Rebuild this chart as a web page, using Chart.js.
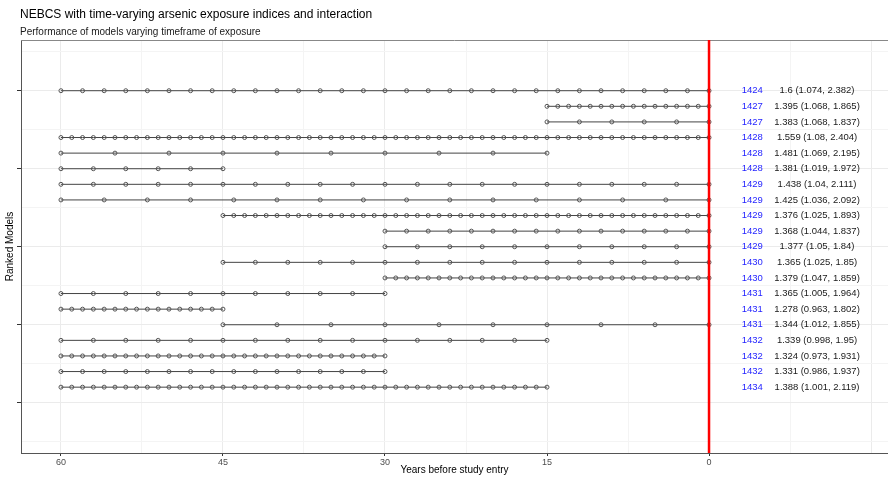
<!DOCTYPE html>
<html>
<head>
<meta charset="utf-8">
<script src="https://cdn.jsdelivr.net/npm/chart.js@4.4.1/dist/chart.umd.min.js"></script>
<style>
  html, body { margin: 0; padding: 0; background: #fff; }
</style>
</head>
<body>
<canvas id="chart" width="888" height="481"></canvas>
<script>
// Model ids, estimates (HR with 95% CI) and rank position, top to bottom
const models = ['1424', '1427', '1427', '1428', '1428', '1428', '1429', '1429', '1429', '1429',
                '1429', '1430', '1430', '1431', '1431', '1431', '1432', '1432', '1432', '1434'];
const estimates = [
  '1.6 (1.074, 2.382)', '1.395 (1.068, 1.865)', '1.383 (1.068, 1.837)', '1.559 (1.08, 2.404)',
  '1.481 (1.069, 2.195)', '1.381 (1.019, 1.972)', '1.438 (1.04, 2.111)', '1.425 (1.036, 2.092)',
  '1.376 (1.025, 1.893)', '1.368 (1.044, 1.837)', '1.377 (1.05, 1.84)', '1.365 (1.025, 1.85)',
  '1.379 (1.047, 1.859)', '1.365 (1.005, 1.964)', '1.278 (0.963, 1.802)', '1.344 (1.012, 1.855)',
  '1.339 (0.998, 1.95)', '1.324 (0.973, 1.931)', '1.331 (0.986, 1.937)', '1.388 (1.001, 2.119)'
];
const rankY = [20, 19, 18, 17, 16, 15, 14, 13, 12, 11, 10, 9, 8, 7, 6, 5, 4, 3, 2, 1];

// Exposure years (before study entry) included in each model
const years = [
  [60, 58, 56, 54, 52, 50, 48, 46, 44, 42, 40, 38, 36, 34, 32, 30, 28, 26, 24, 22, 20, 18, 16, 14, 12, 10, 8, 6, 4, 2, 0],
  [15, 14, 13, 12, 11, 10, 9, 8, 7, 6, 5, 4, 3, 2, 1, 0],
  [15, 12, 9, 6, 3, 0],
  [60, 59, 58, 57, 56, 55, 54, 53, 52, 51, 50, 49, 48, 47, 46, 45, 44, 43, 42, 41, 40, 39, 38, 37, 36, 35, 34, 33, 32, 31,
   30, 29, 28, 27, 26, 25, 24, 23, 22, 21, 20, 19, 18, 17, 16, 15, 14, 13, 12, 11, 10, 9, 8, 7, 6, 5, 4, 3, 2, 1, 0],
  [60, 55, 50, 45, 40, 35, 30, 25, 20, 15],
  [60, 57, 54, 51, 48, 45],
  [60, 57, 54, 51, 48, 45, 42, 39, 36, 33, 30, 27, 24, 21, 18, 15, 12, 9, 6, 3, 0],
  [60, 56, 52, 48, 44, 40, 36, 32, 28, 24, 20, 16, 12, 8, 4, 0],
  [45, 44, 43, 42, 41, 40, 39, 38, 37, 36, 35, 34, 33, 32, 31, 30, 29, 28, 27, 26, 25, 24, 23,
   22, 21, 20, 19, 18, 17, 16, 15, 14, 13, 12, 11, 10, 9, 8, 7, 6, 5, 4, 3, 2, 1, 0],
  [30, 28, 26, 24, 22, 20, 18, 16, 14, 12, 10, 8, 6, 4, 2, 0],
  [30, 27, 24, 21, 18, 15, 12, 9, 6, 3, 0],
  [45, 42, 39, 36, 33, 30, 27, 24, 21, 18, 15, 12, 9, 6, 3, 0],
  [30, 29, 28, 27, 26, 25, 24, 23, 22, 21, 20, 19, 18, 17, 16, 15, 14, 13, 12, 11, 10, 9, 8, 7, 6, 5, 4, 3, 2, 1, 0],
  [60, 57, 54, 51, 48, 45, 42, 39, 36, 33, 30],
  [60, 59, 58, 57, 56, 55, 54, 53, 52, 51, 50, 49, 48, 47, 46, 45],
  [45, 40, 35, 30, 25, 20, 15, 10, 5, 0],
  [60, 57, 54, 51, 48, 45, 42, 39, 36, 33, 30, 27, 24, 21, 18, 15],
  [60, 59, 58, 57, 56, 55, 54, 53, 52, 51, 50, 49, 48, 47, 46, 45, 44, 43, 42, 41, 40, 39, 38, 37, 36, 35, 34, 33, 32, 31, 30],
  [60, 58, 56, 54, 52, 50, 48, 46, 44, 42, 40, 38, 36, 34, 32, 30],
  [60, 59, 58, 57, 56, 55, 54, 53, 52, 51, 50, 49, 48, 47, 46, 45, 44, 43, 42, 41, 40, 39, 38, 37,
   36, 35, 34, 33, 32, 31, 30, 29, 28, 27, 26, 25, 24, 23, 22, 21, 20, 19, 18, 17, 16, 15]
];

const xTickValues = [60, 45, 30, 15, 0];
const yTickValues = [0, 5, 10, 15, 20];

const FONT = '"Liberation Sans", Arial, sans-serif';

// Zero reference line, panel top edge, row labels and titles
const decorations = {
  id: 'decorations',
  afterDatasetsDraw(chart) {
    const { ctx, chartArea, scales: { x, y } } = chart;
    ctx.save();

    ctx.strokeStyle = '#888';
    ctx.lineWidth = 1;
    ctx.beginPath();
    ctx.moveTo(chartArea.left, chartArea.top + 0.5);
    ctx.lineTo(chartArea.right, chartArea.top + 0.5);
    ctx.stroke();

    const x0 = x.getPixelForValue(0);
    ctx.strokeStyle = '#ff0000';
    ctx.lineWidth = 2.5;
    ctx.beginPath();
    ctx.moveTo(x0, chartArea.top);
    ctx.lineTo(x0, chartArea.bottom);
    ctx.stroke();

    ctx.font = '9.5px ' + FONT;
    ctx.textAlign = 'center';
    ctx.textBaseline = 'middle';
    models.forEach((m, i) => {
      const py = y.getPixelForValue(rankY[i]);
      ctx.fillStyle = '#1f1fff';
      ctx.fillText(m, x.getPixelForValue(-4), py);
      ctx.fillStyle = '#1a1a1a';
      ctx.fillText(estimates[i], x.getPixelForValue(-10), py);
    });

    ctx.textAlign = 'left';
    ctx.textBaseline = 'alphabetic';
    ctx.fillStyle = '#000';
    ctx.font = '12px ' + FONT;
    ctx.fillText('NEBCS with time-varying arsenic exposure indices and interaction', chartArea.left - 1, 18);
    ctx.font = '10px ' + FONT;
    ctx.fillStyle = '#1a1a1a';
    ctx.fillText('Performance of models varying timeframe of exposure', chartArea.left - 1, 35);
    ctx.restore();
  }
};

const ctx = document.getElementById('chart').getContext('2d');
new Chart(ctx, {
  type: 'scatter',
  data: {
    datasets: years.map((ys, i) => ({
      label: models[i],
      data: ys.map(v => ({ x: v, y: rankY[i] })),
      showLine: true,
      borderColor: '#444',
      borderWidth: 1,
      pointRadius: 2,
      pointBorderWidth: 1,
      pointBorderColor: '#555',
      pointBackgroundColor: 'rgba(255,255,255,0)'
    }))
  },
  options: {
    responsive: false,
    animation: false,
    layout: { autoPadding: false, padding: { top: 40, left: 0, right: 0, bottom: 0 } },
    plugins: {
      legend: { display: false },
      tooltip: { enabled: false }
    },
    scales: {
      x: {
        type: 'linear',
        reverse: true,
        min: -16.57,
        max: 63.7,
        afterBuildTicks: s => {
          s.ticks = [60, 52.5, 45, 37.5, 30, 22.5, 15, 7.5, 0, -7.5, -15].map(v => ({ value: v }));
        },
        afterFit: s => {
          s.height = 28;
          s.paddingLeft = 0;
          s.paddingRight = 0;
        },
        ticks: {
          autoSkip: false,
          maxRotation: 0,
          padding: 1,
          color: '#4d4d4d',
          font: { family: FONT, size: 9 },
          callback: v => xTickValues.includes(v) ? String(v) : ''
        },
        grid: {
          color: c => (c.tick && c.tick.value % 15 === 0) ? '#ebebeb' : '#f4f4f4',
          lineWidth: 1,
          tickLength: 3,
          tickColor: c => (c.tick && xTickValues.includes(c.tick.value)) ? '#333' : 'rgba(0,0,0,0)'
        },
        border: { display: true, color: '#555', width: 1 },
        title: {
          display: true,
          text: 'Years before study entry',
          color: '#000',
          font: { family: FONT, size: 10 },
          padding: { top: 0, bottom: 5 }
        }
      },
      y: {
        type: 'linear',
        min: -3.22,
        max: 23.25,
        afterBuildTicks: s => {
          s.ticks = [-2.5, 0, 2.5, 5, 7.5, 10, 12.5, 15, 17.5, 20, 22.5].map(v => ({ value: v }));
        },
        afterFit: s => {
          s.width = 21;
          s.paddingTop = 0;
          s.paddingBottom = 0;
        },
        ticks: { callback: () => '', padding: 0 },
        grid: {
          color: c => (c.tick && c.tick.value % 5 === 0) ? '#ebebeb' : '#f4f4f4',
          lineWidth: 1,
          tickLength: 4,
          tickColor: c => (c.tick && yTickValues.includes(c.tick.value)) ? '#333' : 'rgba(0,0,0,0)'
        },
        border: { display: true, color: '#555', width: 1 },
        title: {
          display: true,
          text: 'Ranked Models',
          color: '#000',
          font: { family: FONT, size: 10 },
          padding: { top: 4, bottom: 0 }
        }
      }
    }
  },
  plugins: [decorations]
});
</script>
</body>
</html>
